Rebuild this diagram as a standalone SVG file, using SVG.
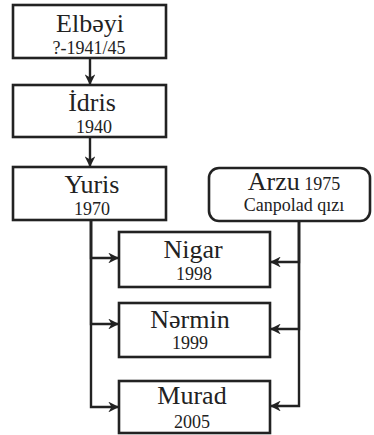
<svg xmlns="http://www.w3.org/2000/svg" width="374" height="435" viewBox="0 0 374 435">
<style>
.box{fill:#fff;stroke:#222;stroke-width:2.6}
.name{font-family:"Liberation Serif","Times New Roman",serif;font-size:26px;fill:#222;text-anchor:middle}
.year{font-family:"Liberation Serif","Times New Roman",serif;font-size:18px;fill:#222;text-anchor:middle}
.conn{fill:none;stroke:#222;stroke-width:2.4}
</style>
<defs>
<marker id="arr" viewBox="0 0 10 10" refX="9" refY="5" markerWidth="4.5" markerHeight="4.5" markerUnits="strokeWidth" orient="auto">
<path d="M0,0 L10,5 L0,10 L3,5 z" fill="#222"/>
</marker>
</defs>
<rect width="374" height="435" fill="#fff"/>
<g id="connectors">
<path class="conn" d="M90,58 V84" marker-end="url(#arr)"/>
<path class="conn" d="M90,137 V166" marker-end="url(#arr)"/>
<path class="conn" d="M91,220 V258 H118" marker-end="url(#arr)"/>
<path class="conn" d="M91,220 V324 H118" marker-end="url(#arr)"/>
<path class="conn" d="M91,220 V407 H118" marker-end="url(#arr)"/>
<path class="conn" d="M299,221 V262 H271" marker-end="url(#arr)"/>
<path class="conn" d="M299,221 V329 H271" marker-end="url(#arr)"/>
<path class="conn" d="M299,221 V406 H271" marker-end="url(#arr)"/>
</g>
<g id="elbeyi">
<rect class="box" x="13" y="5" width="153" height="53"/>
<text class="name" x="90" y="32">Elbəyi</text>
<text class="year" x="89" y="54">?-1941/45</text>
</g>
<g id="idris">
<rect class="box" x="13" y="85" width="153" height="52"/>
<text class="name" x="92" y="111">İdris</text>
<text class="year" x="94" y="133">1940</text>
</g>
<g id="yuris">
<rect class="box" x="13" y="167" width="153" height="53"/>
<text class="name" x="92" y="193">Yuris</text>
<text class="year" x="92" y="215">1970</text>
</g>
<g id="arzu">
<rect class="box" x="209" y="168" width="161" height="53" rx="10"/>
<text class="name" x="294" y="190"><tspan>Arzu</tspan><tspan class="year" font-size="18"> 1975</tspan></text>
<text class="year" x="294" y="211" font-size="17">Canpolad qızı</text>
</g>
<g id="nigar">
<rect class="box" x="119" y="232" width="151" height="55"/>
<text class="name" x="193" y="258">Nigar</text>
<text class="year" x="194" y="280">1998</text>
</g>
<g id="nermin">
<rect class="box" x="119" y="303" width="151" height="54"/>
<text class="name" x="190" y="328">Nərmin</text>
<text class="year" x="190" y="349">1999</text>
</g>
<g id="murad">
<rect class="box" x="119" y="381" width="151" height="52"/>
<text class="name" x="192" y="404">Murad</text>
<text class="year" x="192" y="428">2005</text>
</g>
</svg>
